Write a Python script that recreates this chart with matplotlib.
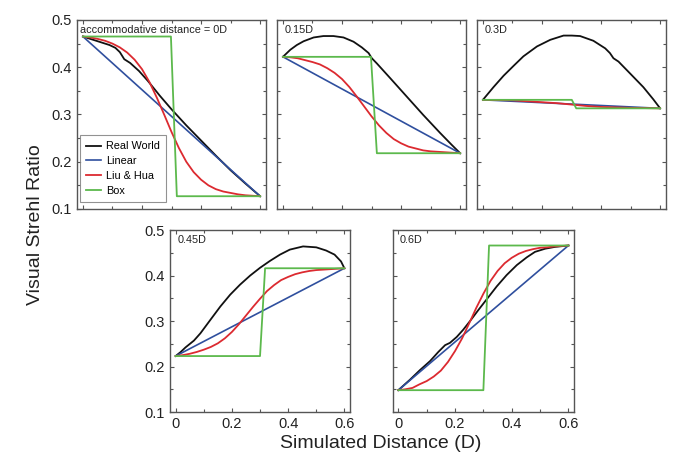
import matplotlib.pyplot as plt
from matplotlib.ticker import MultipleLocator, FuncFormatter

plt.rcParams['font.family'] = ['Liberation Sans', 'DejaVu Sans']

# ---- data ----
panel_labels = ["accommodative distance = 0D", "0.15D", "0.3D", "0.45D", "0.6D"]

# common x grid for the Liu & Hua curves
lh_x = [0, 0.025, 0.05, 0.075, 0.1, 0.125, 0.15, 0.175, 0.2, 0.225, 0.25, 0.275, 0.3,
        0.325, 0.35, 0.375, 0.4, 0.425, 0.45, 0.475, 0.5, 0.525, 0.55, 0.575, 0.6]

# 0D
rw0_x = [0, 0.03, 0.06, 0.09, 0.11, 0.125, 0.14, 0.16, 0.19, 0.22, 0.26, 0.30, 0.35, 0.40, 0.45, 0.50, 0.55, 0.60]
rw0_y = [0.465, 0.459, 0.453, 0.447, 0.441, 0.432, 0.417, 0.409, 0.392, 0.371, 0.340, 0.311, 0.277, 0.245, 0.213, 0.182, 0.154, 0.127]
lh0_y = [0.465, 0.463, 0.460, 0.456, 0.450, 0.442, 0.431, 0.416, 0.396, 0.369, 0.336, 0.300, 0.263,
         0.229, 0.200, 0.178, 0.162, 0.150, 0.142, 0.137, 0.134, 0.131, 0.129, 0.128, 0.127]
lin0_x = [0, 0.6]
lin0_y = [0.465, 0.127]
box0_x = [0, 0.298, 0.318, 0.6]
box0_y = [0.465, 0.465, 0.127, 0.127]

# 0.15D
rw1_x = [0, 0.025, 0.047, 0.07, 0.104, 0.137, 0.171, 0.205, 0.239, 0.267, 0.29, 0.301, 0.318, 0.363, 0.419, 0.475, 0.532, 0.571, 0.6]
rw1_y = [0.422, 0.437, 0.447, 0.455, 0.463, 0.466, 0.466, 0.463, 0.454, 0.442, 0.430, 0.419, 0.408, 0.377, 0.338, 0.299, 0.261, 0.236, 0.218]
lh1_y = [0.422, 0.421, 0.419, 0.415, 0.411, 0.406, 0.398, 0.388, 0.375, 0.358, 0.338, 0.317, 0.296,
         0.277, 0.261, 0.248, 0.239, 0.232, 0.228, 0.224, 0.222, 0.221, 0.220, 0.219, 0.218]
lin1_x = [0, 0.6]
lin1_y = [0.422, 0.218]
box1_x = [0, 0.298, 0.318, 0.6]
box1_y = [0.422, 0.422, 0.218, 0.218]

# 0.3D
rw2_x = [0, 0.036, 0.07, 0.104, 0.137, 0.183, 0.228, 0.273, 0.301, 0.329, 0.374, 0.414, 0.43, 0.442, 0.459, 0.498, 0.543, 0.577, 0.6]
rw2_y = [0.331, 0.358, 0.382, 0.403, 0.423, 0.444, 0.458, 0.467, 0.467, 0.466, 0.456, 0.440, 0.430, 0.419, 0.412, 0.387, 0.358, 0.332, 0.313]
lh2_x = [0, 0.1, 0.15, 0.2, 0.25, 0.3, 0.35, 0.4, 0.45, 0.5, 0.6]
lh2_y = [0.331, 0.330, 0.328, 0.326, 0.324, 0.321, 0.318, 0.316, 0.315, 0.314, 0.313]
lin2_x = [0, 0.6]
lin2_y = [0.331, 0.313]
box2_x = [0, 0.301, 0.316, 0.6]
box2_y = [0.331, 0.331, 0.313, 0.313]

# 0.45D
rw3_x = [0, 0.018, 0.035, 0.053, 0.065, 0.088, 0.124, 0.159, 0.194, 0.229, 0.265, 0.3, 0.335, 0.371, 0.406, 0.453, 0.5, 0.535, 0.565, 0.588, 0.6]
rw3_y = [0.223, 0.232, 0.242, 0.251, 0.257, 0.273, 0.303, 0.332, 0.358, 0.380, 0.400, 0.417, 0.432, 0.446, 0.457, 0.464, 0.462, 0.455, 0.446, 0.431, 0.416]
lh3_y = [0.223, 0.225, 0.228, 0.232, 0.237, 0.243, 0.251, 0.262, 0.276, 0.293, 0.312, 0.331, 0.349,
         0.366, 0.379, 0.390, 0.397, 0.403, 0.407, 0.410, 0.412, 0.413, 0.414, 0.415, 0.416]
lin3_x = [0, 0.6]
lin3_y = [0.223, 0.416]
box3_x = [0, 0.3, 0.318, 0.6]
box3_y = [0.223, 0.223, 0.416, 0.416]

# 0.6D
rw4_x = [0, 0.041, 0.076, 0.112, 0.141, 0.165, 0.182, 0.206, 0.229, 0.253, 0.282, 0.312, 0.347, 0.382, 0.418, 0.453, 0.482, 0.518, 0.553, 0.6]
rw4_y = [0.148, 0.171, 0.192, 0.212, 0.232, 0.247, 0.252, 0.265, 0.281, 0.300, 0.324, 0.348, 0.376, 0.401, 0.423, 0.440, 0.452, 0.459, 0.463, 0.466]
lh4_y = [0.148, 0.150, 0.153, 0.161, 0.168, 0.178, 0.191, 0.210, 0.234, 0.262, 0.295, 0.329, 0.360,
         0.388, 0.410, 0.427, 0.439, 0.448, 0.454, 0.458, 0.461, 0.462, 0.464, 0.465, 0.466]
lin4_x = [0, 0.6]
lin4_y = [0.148, 0.466]
box4_x = [0, 0.3, 0.32, 0.6]
box4_y = [0.148, 0.148, 0.466, 0.466]

panels = [
    (rw0_x, rw0_y, lin0_x, lin0_y, lh_x, lh0_y, box0_x, box0_y),
    (rw1_x, rw1_y, lin1_x, lin1_y, lh_x, lh1_y, box1_x, box1_y),
    (rw2_x, rw2_y, lin2_x, lin2_y, lh2_x, lh2_y, box2_x, box2_y),
    (rw3_x, rw3_y, lin3_x, lin3_y, lh_x, lh3_y, box3_x, box3_y),
    (rw4_x, rw4_y, lin4_x, lin4_y, lh_x, lh4_y, box4_x, box4_y),
]

c_rw = "#111111"
c_lin = "#2f4f9e"
c_lh = "#dc2a30"
c_box = "#5cb94c"

fig = plt.figure(figsize=(6.79, 4.69), dpi=100)

# axes rectangles in figure fraction
rects = [
    [0.1134, 0.5544, 0.2784, 0.403],
    [0.4080, 0.5544, 0.2784, 0.403],
    [0.7025, 0.5544, 0.2784, 0.403],
    [0.2504, 0.1215, 0.2651, 0.388],
    [0.5783, 0.1215, 0.2672, 0.388],
]

spine_c = "#555555"
for i, (rect, data) in enumerate(zip(rects, panels)):
    ax = fig.add_axes(rect)
    rx, ry, lx, ly, hx, hy, bx, by = data
    ax.plot(rx, ry, color=c_rw, lw=1.3, label="Real World")
    ax.plot(lx, ly, color=c_lin, lw=1.2, label="Linear")
    ax.plot(hx, hy, color=c_lh, lw=1.3, label="Liu & Hua")
    ax.plot(bx, by, color=c_box, lw=1.3, label="Box")
    ax.set_xlim(-0.02, 0.62)
    ax.set_ylim(0.1, 0.5)
    ax.xaxis.set_major_locator(MultipleLocator(0.2))
    ax.xaxis.set_minor_locator(MultipleLocator(0.1))
    ax.yaxis.set_major_locator(MultipleLocator(0.1))
    ax.yaxis.set_minor_locator(MultipleLocator(0.05))
    ax.tick_params(which="both", direction="in", top=True, right=True, colors=spine_c,
                   labelcolor="#222222", labelsize=10.5, width=0.8)
    ax.tick_params(which="major", length=3)
    ax.tick_params(which="minor", length=2)
    for s in ax.spines.values():
        s.set_color(spine_c)
        s.set_linewidth(1.0)
    if i < 3:
        ax.tick_params(labelbottom=False)
    else:
        ax.xaxis.set_major_formatter(FuncFormatter(lambda v, p: "0" if abs(v) < 1e-9 else f"{v:.1f}"))
    if i not in (0, 3):
        ax.tick_params(labelleft=False)
    tx = 0.016 if i == 0 else 0.04
    ax.text(tx, 0.975, panel_labels[i], transform=ax.transAxes, ha="left", va="top",
            fontsize=7.8, color="#222222")
    if i == 0:
        leg = ax.legend(loc="lower left", bbox_to_anchor=(0.0, 0.02), fontsize=7.8,
                        frameon=True, fancybox=False, handlelength=1.4, handletextpad=0.4,
                        borderpad=0.55, labelspacing=0.45, borderaxespad=0.3)
        leg.get_frame().set_edgecolor("#777777")
        leg.get_frame().set_linewidth(0.8)

fig.text(0.052, 0.522, "Visual Strehl Ratio", rotation=90, ha="center", va="center",
         fontsize=14, color="#222222")
fig.text(0.56, 0.055, "Simulated Distance (D)", ha="center", va="center",
         fontsize=14, color="#222222")

fig.savefig("out.png", dpi=100)
